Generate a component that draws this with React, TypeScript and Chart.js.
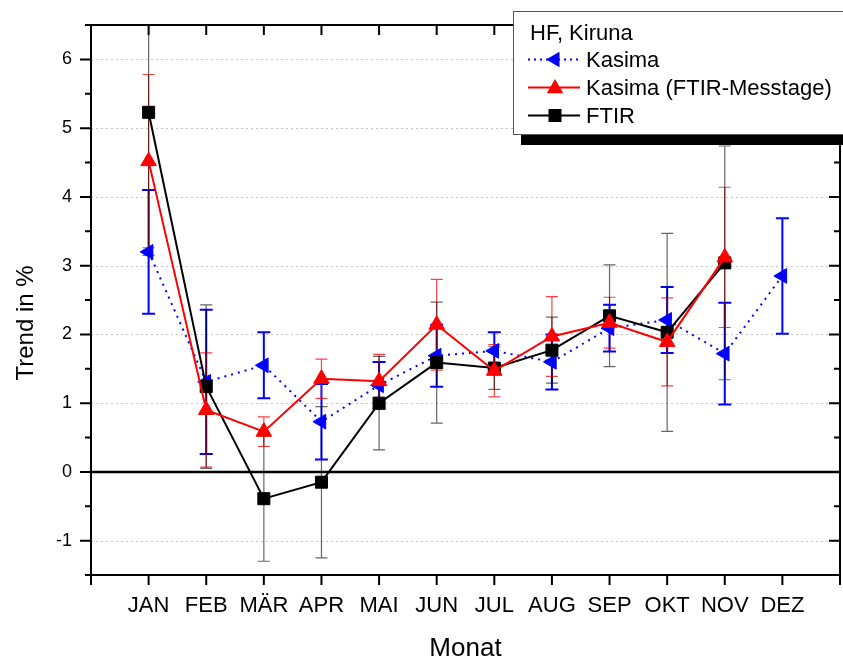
import React, { useEffect, useRef } from 'react';
import { Chart, registerables } from 'chart.js';

Chart.register(...registerables);

// ---------- data ----------
const MONTHS = ['JAN', 'FEB', 'MÄR', 'APR', 'MAI', 'JUN', 'JUL', 'AUG', 'SEP', 'OKT', 'NOV', 'DEZ'];

const KASIMA = [3.2, 1.31, 1.55, 0.73, 1.26, 1.69, 1.76, 1.6, 2.09, 2.21, 1.72, 2.85];
const KASIMA_ERR = [0.9, 1.05, 0.48, 0.55, 0.34, 0.45, 0.27, 0.4, 0.34, 0.48, 0.74, 0.84];

const KASIMA_FTIR = [4.52, 0.9, 0.585, 1.355, 1.32, 2.14, 1.47, 1.97, 2.17, 1.89, 3.12, null];
const KASIMA_FTIR_ERR = [1.26, 0.83, 0.215, 0.285, 0.39, 0.66, 0.38, 0.58, 0.37, 0.64, 1.02, null];

const FTIR = [5.23, 1.24, -0.39, -0.15, 1.0, 1.59, 1.51, 1.77, 2.27, 2.03, 3.04, null];
const FTIR_ERR = [2.08, 1.19, 0.91, 1.1, 0.68, 0.88, 0.31, 0.48, 0.74, 1.44, 1.7, null];

const SERIES_LABELS = ['Kasima', 'Kasima (FTIR-Messtage)', 'FTIR'];
const LEGEND_TITLE = 'HF, Kiruna';
const X_TITLE = 'Monat';
const Y_TITLE = 'Trend in %';

const Y_MIN = -1.5;
const Y_MAX = 6.5;
const Y_MAJOR = [-1, 0, 1, 2, 3, 4, 5, 6];
const Y_MINOR = [-1.5, -0.5, 0.5, 1.5, 2.5, 3.5, 4.5, 5.5, 6.5];
const X_MIN = 0;
const X_MAX = 13;

const FONT = "'Liberation Sans', Arial, Helvetica, sans-serif";
const W = 843;
const H = 657;

const toPoints = (vals: (number | null)[]) =>
  vals.map((v, i) => ({ x: i + 1, y: v }));

function drawErrorBars(ctx: CanvasRenderingContext2D, xs: any, ys: any,
  values: (number | null)[], errs: (number | null)[], color: string, lw: number, cap: number) {
  ctx.strokeStyle = color;
  ctx.lineWidth = lw;
  values.forEach((v, i) => {
    const e = errs[i];
    if (v == null || e == null) return;
    const px = xs.getPixelForValue(i + 1);
    const pTop = ys.getPixelForValue(v + e);
    const pBot = ys.getPixelForValue(v - e);
    ctx.beginPath();
    ctx.moveTo(px, pTop);
    ctx.lineTo(px, pBot);
    ctx.moveTo(px - cap, pTop);
    ctx.lineTo(px + cap, pTop);
    ctx.moveTo(px - cap, pBot);
    ctx.lineTo(px + cap, pBot);
    ctx.stroke();
  });
}

function triUp(ctx: CanvasRenderingContext2D, cx: number, cy: number, r: number) {
  ctx.beginPath();
  ctx.moveTo(cx, cy - r);
  ctx.lineTo(cx + r * 0.866, cy + r * 0.5);
  ctx.lineTo(cx - r * 0.866, cy + r * 0.5);
  ctx.closePath();
  ctx.fill();
}
function triLeft(ctx: CanvasRenderingContext2D, cx: number, cy: number, r: number) {
  ctx.beginPath();
  ctx.moveTo(cx - r, cy);
  ctx.lineTo(cx + r * 0.5, cy - r * 0.866);
  ctx.lineTo(cx + r * 0.5, cy + r * 0.866);
  ctx.closePath();
  ctx.fill();
}

const decorPlugin = {
  id: 'decor',
  beforeDatasetsDraw(chart: any) {
    const { ctx, chartArea: ca, scales } = chart;
    const xs = scales.x;
    const ys = scales.y;
    ctx.save();
    // dotted grid
    ctx.strokeStyle = '#c4c4c4';
    ctx.lineWidth = 1;
    ctx.setLineDash([2, 3]);
    for (const v of Y_MAJOR) {
      if (v === 0) continue;
      const py = Math.round(ys.getPixelForValue(v)) + 0.5;
      ctx.beginPath();
      ctx.moveTo(ca.left, py);
      ctx.lineTo(ca.right, py);
      ctx.stroke();
    }
    ctx.setLineDash([]);
    // zero line
    const pz = ys.getPixelForValue(0);
    ctx.strokeStyle = '#000';
    ctx.lineWidth = 2.5;
    ctx.beginPath();
    ctx.moveTo(ca.left, pz);
    ctx.lineTo(ca.right, pz);
    ctx.stroke();
    // error bars
    ctx.beginPath();
    ctx.rect(ca.left, ca.top, ca.right - ca.left, ca.bottom - ca.top);
    ctx.clip();
    drawErrorBars(ctx, xs, ys, KASIMA, KASIMA_ERR, '#0000ff', 2, 6.5);
    drawErrorBars(ctx, xs, ys, KASIMA_FTIR, KASIMA_FTIR_ERR, 'rgba(255,0,0,0.75)', 1.2, 6);
    drawErrorBars(ctx, xs, ys, FTIR, FTIR_ERR, 'rgba(0,0,0,0.6)', 1.2, 6);
    ctx.restore();
  },
  afterDraw(chart: any) {
    const { ctx, chartArea: ca, scales } = chart;
    const xs = scales.x;
    const ys = scales.y;
    ctx.save();
    ctx.strokeStyle = '#000';
    ctx.lineWidth = 2;
    // frame
    ctx.strokeRect(ca.left, ca.top, ca.right - ca.left, ca.bottom - ca.top);
    // y ticks: left outward, right inward
    const ticksY = [...Y_MAJOR.map((v) => [v, 11]), ...Y_MINOR.map((v) => [v, 6])];
    for (const [v, len] of ticksY) {
      const py = ys.getPixelForValue(v);
      ctx.beginPath();
      ctx.moveTo(ca.left - len, py);
      ctx.lineTo(ca.left, py);
      ctx.moveTo(ca.right - len, py);
      ctx.lineTo(ca.right, py);
      ctx.stroke();
    }
    // x ticks: bottom outward, top inward
    for (let i = X_MIN; i <= X_MAX; i++) {
      const px = xs.getPixelForValue(i);
      ctx.beginPath();
      ctx.moveTo(px, ca.bottom);
      ctx.lineTo(px, ca.bottom + 10);
      if (i >= 1 && i <= 12) {
        ctx.moveTo(px, ca.top);
        ctx.lineTo(px, ca.top + 10);
      }
      ctx.stroke();
    }
    // axis titles
    ctx.fillStyle = '#000';
    ctx.font = `26px ${FONT}`;
    ctx.textAlign = 'center';
    ctx.textBaseline = 'alphabetic';
    ctx.fillText(X_TITLE, (ca.left + ca.right) / 2, 656);
    ctx.save();
    ctx.translate(32.5, 323);
    ctx.rotate(-Math.PI / 2);
    ctx.font = `24px ${FONT}`;
    ctx.fillText(Y_TITLE, 0, 0);
    ctx.restore();

    // legend
    const bx = 513, by = 11, bh = 124;
    ctx.fillStyle = '#000';
    ctx.fillRect(bx + 8, by + 10, W, bh);
    ctx.fillStyle = '#fff';
    ctx.fillRect(bx, by, W, bh);
    ctx.strokeStyle = '#555';
    ctx.lineWidth = 1;
    ctx.strokeRect(bx + 0.5, by + 0.5, W, bh - 1);

    ctx.fillStyle = '#000';
    ctx.font = `22px ${FONT}`;
    ctx.textAlign = 'left';
    ctx.fillText(LEGEND_TITLE, 530, 40);
    const baselines = [67, 95, 123];
    const l0 = 528, l1 = 580, mx = 555, tx = 586;
    // Kasima
    let cy = baselines[0] - 7.5;
    ctx.strokeStyle = '#0000ff';
    ctx.lineWidth = 2;
    ctx.setLineDash([2, 4]);
    ctx.beginPath();
    ctx.moveTo(l0, cy);
    ctx.lineTo(l1, cy);
    ctx.stroke();
    ctx.setLineDash([]);
    ctx.fillStyle = '#0000ff';
    triLeft(ctx, mx, cy, 9);
    // Kasima FTIR
    cy = baselines[1] - 7.5;
    ctx.strokeStyle = '#ff0000';
    ctx.beginPath();
    ctx.moveTo(l0, cy);
    ctx.lineTo(l1, cy);
    ctx.stroke();
    ctx.fillStyle = '#ff0000';
    triUp(ctx, mx, cy + 1, 9.5);
    // FTIR
    cy = baselines[2] - 7.5;
    ctx.strokeStyle = '#000';
    ctx.beginPath();
    ctx.moveTo(l0, cy);
    ctx.lineTo(l1, cy);
    ctx.stroke();
    ctx.fillStyle = '#000';
    ctx.fillRect(mx - 6.5, cy - 6.5, 13, 13);

    ctx.fillStyle = '#000';
    SERIES_LABELS.forEach((t, i) => ctx.fillText(t, tx, baselines[i]));
    ctx.restore();
  },
};

export default function App() {
  const ref = useRef<HTMLCanvasElement | null>(null);

  useEffect(() => {
    if (!ref.current) return;
    const chart = new Chart(ref.current, {
      type: 'line',
      data: {
        datasets: [
          {
            label: SERIES_LABELS[1],
            data: toPoints(KASIMA_FTIR),
            borderColor: '#ff0000',
            backgroundColor: '#ff0000',
            borderWidth: 2,
            pointStyle: 'triangle',
            pointRadius: 9,
            pointBorderWidth: 1,
            pointBackgroundColor: '#ff0000',
            pointBorderColor: '#ff0000',
            order: 0,
          },
          {
            label: SERIES_LABELS[2],
            data: toPoints(FTIR),
            borderColor: '#000000',
            backgroundColor: '#000000',
            borderWidth: 2,
            pointStyle: 'rect',
            pointRadius: 8.5,
            pointBorderWidth: 1,
            pointBackgroundColor: '#000000',
            pointBorderColor: '#000000',
            order: 1,
          },
          {
            label: SERIES_LABELS[0],
            data: toPoints(KASIMA),
            borderColor: '#0000ff',
            backgroundColor: '#0000ff',
            borderWidth: 2,
            borderDash: [2, 5],
            pointStyle: 'triangle',
            pointRotation: 270,
            pointRadius: 8.5,
            pointBorderWidth: 1,
            pointBackgroundColor: '#0000ff',
            pointBorderColor: '#0000ff',
            order: 2,
          },
        ],
      },
      options: {
        responsive: false,
        animation: false,
        layout: { autoPadding: false, padding: { left: 0, top: 25, right: 3, bottom: 0 } },
        plugins: {
          legend: { display: false },
          tooltip: { enabled: false },
        },
        elements: { line: { tension: 0 } },
        scales: {
          x: {
            type: 'linear',
            min: X_MIN,
            max: X_MAX,
            grid: { display: false, drawTicks: false },
            border: { display: false },
            afterBuildTicks: (scale: any) => {
              scale.ticks = MONTHS.map((_, i) => ({ value: i + 1 }));
            },
            afterFit: (scale: any) => {
              scale.height = 82;
              scale.paddingLeft = 0;
              scale.paddingRight = 0;
            },
            ticks: {
              autoSkip: false,
              maxRotation: 0,
              minRotation: 0,
              padding: 18,
              color: '#000',
              font: { family: FONT, size: 22 },
              callback: (v: any) => MONTHS[Number(v) - 1] ?? '',
            },
          },
          y: {
            type: 'linear',
            min: Y_MIN,
            max: Y_MAX,
            grid: { display: false, drawTicks: false },
            border: { display: false },
            afterBuildTicks: (scale: any) => {
              scale.ticks = Y_MAJOR.map((v) => ({ value: v }));
            },
            afterFit: (scale: any) => {
              scale.width = 91;
              scale.paddingTop = 0;
              scale.paddingBottom = 0;
            },
            ticks: {
              padding: 19,
              color: '#000',
              font: { family: FONT, size: 18 },
              callback: (v: any) => String(v),
            },
          },
        },
      },
      plugins: [decorPlugin],
    });
    return () => chart.destroy();
  }, []);

  return (
    <div style={{ position: 'absolute', left: 0, top: 0, width: W, height: H, background: '#fff' }}>
      <canvas ref={ref} width={W} height={H} style={{ display: 'block' }} />
    </div>
  );
}
